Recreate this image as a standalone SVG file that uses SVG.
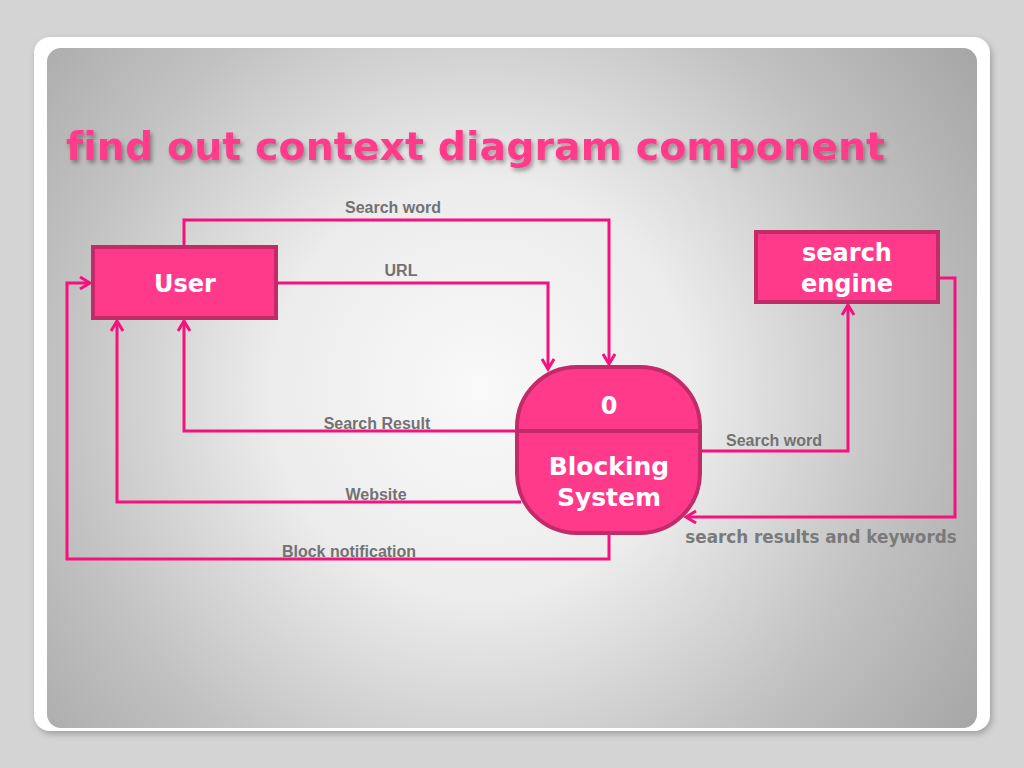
<svg xmlns="http://www.w3.org/2000/svg" width="1024" height="768" viewBox="0 0 1024 768">
<defs>
<style>
.box{fill:#ff3a8a;stroke:#c22a68;stroke-width:4}
.nt{font-family:"DejaVu Sans",Verdana,sans-serif;font-weight:bold;fill:#ffffff;text-anchor:middle;font-variant-ligatures:none}
.ln{fill:none;stroke:#f5127f;stroke-width:3}
.lb{font-family:"Liberation Sans",Arial,sans-serif;font-weight:bold;font-size:16px;fill:#727272;text-anchor:middle}
</style>
<radialGradient id="bg" cx="480" cy="390" r="600" gradientUnits="userSpaceOnUse">
<stop offset="0" stop-color="#f9f9f9"/>
<stop offset="0.35" stop-color="#ececec"/>
<stop offset="0.7" stop-color="#c2c2c2"/>
<stop offset="1" stop-color="#a6a6a6"/>
</radialGradient>
<filter id="sh" x="-10%" y="-10%" width="120%" height="130%">
<feDropShadow dx="2" dy="3" stdDeviation="2" flood-color="#000" flood-opacity="0.35"/>
</filter>
<filter id="fs" x="-5%" y="-5%" width="110%" height="110%">
<feDropShadow dx="2" dy="3" stdDeviation="3" flood-color="#000" flood-opacity="0.25"/>
</filter>
<marker id="ah" markerUnits="userSpaceOnUse" markerWidth="14" markerHeight="16" refX="11" refY="7" orient="auto">
<path d="M1,1 L11,7 L1,13" fill="none" stroke="#f5127f" stroke-width="3"/>
</marker>
</defs>
<rect x="0" y="0" width="1024" height="768" fill="#d4d4d4"/>
<rect x="34" y="37" width="956" height="694" rx="16" fill="#ffffff" filter="url(#fs)"/>
<rect x="47" y="48" width="930" height="680" rx="14" fill="url(#bg)"/>
<text x="66" y="160" font-family="'DejaVu Sans',Verdana,sans-serif" font-weight="bold" font-size="39.5" fill="#ff3a8a" filter="url(#sh)" style="font-variant-ligatures:none" textLength="819" lengthAdjust="spacing">find out context diagram component</text>

<g id="connectors">
<polyline class="ln" points="184,245 184,220 609,220 609,364" marker-end="url(#ah)"/>
<polyline class="ln" points="278,283 548,283 548,369" marker-end="url(#ah)"/>
<polyline class="ln" points="515,431 184,431 184,321" marker-end="url(#ah)"/>
<polyline class="ln" points="521,502 117,502 117,321" marker-end="url(#ah)"/>
<polyline class="ln" points="609,535 609,559 67,559 67,283 90,283" marker-end="url(#ah)"/>
<polyline class="ln" points="702,451 848,451 848,305" marker-end="url(#ah)"/>
<polyline class="ln" points="930,278 955,278 955,517 686,517" marker-end="url(#ah)"/>
<text class="lb" x="393" y="213">Search word</text>
<text class="lb" x="401" y="276">URL</text>
<text class="lb" x="377" y="429">Search Result</text>
<text class="lb" x="376" y="500">Website</text>
<text class="lb" x="349" y="557">Block notification</text>
<text class="lb" x="774" y="446">Search word</text>
<text x="821" y="543" font-family="'DejaVu Sans',Verdana,sans-serif" font-weight="bold" font-size="16.8" fill="#7a7a7a" text-anchor="middle">search results and keywords</text>
</g>

<g id="user">
<rect class="box" x="93" y="247" width="183" height="71"/>
<text class="nt" x="185" y="292" font-size="24">User</text>
</g>

<g id="search-engine">
<rect class="box" x="756" y="232" width="182" height="70"/>
<text class="nt" x="847" y="261" font-size="24">search</text>
<text class="nt" x="847" y="292" font-size="24">engine</text>
</g>

<g id="blocking-system">
<rect class="box" x="517" y="367" width="183" height="166" rx="60" ry="60"/>
<line x1="517" y1="431" x2="700" y2="431" stroke="#c22a68" stroke-width="4"/>
<text class="nt" x="609" y="414" font-size="24">0</text>
<text class="nt" x="609" y="475" font-size="25">Blocking</text>
<text class="nt" x="609" y="506" font-size="25">System</text>
</g>
</svg>
